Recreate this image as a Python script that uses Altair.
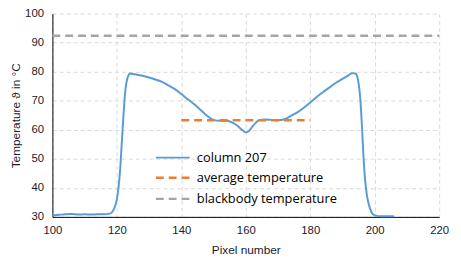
import altair as alt
import pandas as pd

# ---- data ----
pixel = [100, 102, 104, 106, 108, 110, 112, 114, 116, 118, 119, 120, 120.5, 121, 121.5,
         122, 122.5, 123, 123.5, 124, 125, 126, 128, 130, 132, 134, 136, 138, 140, 142,
         144, 146, 148, 150, 152, 154, 156, 157, 158, 159, 160, 161, 162, 163, 164, 166,
         168, 170, 172, 174, 176, 178, 180, 182, 184, 186, 188, 190, 192, 193, 194, 194.5,
         195, 195.5, 196, 196.5, 197, 197.5, 198, 198.5, 199, 200, 202, 204, 206]
temp = [30.5, 30.7, 30.9, 31.0, 30.8, 30.9, 30.8, 30.9, 30.9, 31.2, 32.5, 36, 40, 46, 55,
        64, 72, 76.5, 78.5, 79.4, 79.2, 79.0, 78.6, 78.0, 77.3, 76.5, 75.3, 74.0, 72.3, 70.5,
        68.8, 66.8, 64.8, 63.4, 63.1, 63.1, 62.4, 61.7, 60.8, 59.8, 59.1, 59.6, 61.0, 62.3, 63.2, 63.5,
        63.4, 63.3, 63.6, 64.8, 66.0, 67.6, 69.4, 71.3, 73.0, 74.6, 76.2, 77.5, 78.8, 79.5, 79.4, 78.6,
        76, 71, 62, 51, 43, 38, 35, 33, 31.6, 30.5, 30.2, 30.2, 30.2]

avg_x = [140, 180]
avg_temp = 63.3
bb_x = [100, 220]
bb_temp = 92.4

x_ticks = [100, 120, 140, 160, 180, 200, 220]
y_ticks = [30, 40, 50, 60, 70, 80, 90, 100]

legend_labels = ["column 207", "average temperature", "blackbody temperature"]
legend_colors = ["#5B9BD5", "#ED7D31", "#A5A5A5"]
legend_y = [50.4, 43.5, 36.2]
legend_sym_x = [132.1, 142.6]
legend_text_x = 144.8

x_scale = alt.Scale(domain=[100, 220], nice=False, zero=False)
y_scale = alt.Scale(domain=[30, 100], nice=False, zero=False)

x_axis = alt.Axis(values=x_ticks, title="Pixel number", tickCount=len(x_ticks))
y_axis = alt.Axis(values=y_ticks, title="Temperature  ϑ in °C", tickCount=len(y_ticks))


def X(field):
    return alt.X(field, type="quantitative", scale=x_scale, axis=x_axis)


def Y(field):
    return alt.Y(field, type="quantitative", scale=y_scale, axis=y_axis)


curve_df = pd.DataFrame({"x": pixel, "y": temp})
avg_df = pd.DataFrame({"x": avg_x, "y": [avg_temp] * len(avg_x)})
bb_df = pd.DataFrame({"x": bb_x, "y": [bb_temp] * len(bb_x)})

bb = alt.Chart(bb_df).mark_line(color=legend_colors[2], strokeWidth=2.5,
                                strokeDash=[8, 5]).encode(x=X("x"), y=Y("y"))

curve = alt.Chart(curve_df).mark_line(color=legend_colors[0], strokeWidth=2,
                                      interpolate="monotone").encode(x=X("x"), y=Y("y"))

avg = alt.Chart(avg_df).mark_line(color=legend_colors[1], strokeWidth=2.5,
                                  strokeDash=[8, 5]).encode(x=X("x"), y=Y("y"))

leg_df = pd.DataFrame({
    "label": legend_labels,
    "color": legend_colors,
    "y": legend_y,
    "x1": [legend_sym_x[0]] * 3,
    "x2": [legend_sym_x[1]] * 3,
    "tx": [legend_text_x] * 3,
})

leg_solid = alt.Chart(leg_df.iloc[[0]]).mark_rule(strokeWidth=2).encode(
    x=X("x1"), x2="x2:Q", y=Y("y"), color=alt.Color("color:N", scale=None))
leg_dash = alt.Chart(leg_df.iloc[[1, 2]]).mark_rule(strokeWidth=2.5, strokeDash=[8, 5]).encode(
    x=X("x1"), x2="x2:Q", y=Y("y"), color=alt.Color("color:N", scale=None))
leg_text = alt.Chart(leg_df).mark_text(align="left", baseline="middle", font="Open Sans",
                                       fontSize=13, color="#000000").encode(
    x=X("tx"), y=Y("y"), text="label:N")

chart = alt.layer(bb, curve, avg, leg_solid, leg_dash, leg_text).properties(
    width=392, height=206,
    autosize=alt.AutoSizeParams(type="none"),
    padding={"left": 45, "top": 4, "right": 14, "bottom": 40},
).configure_view(stroke=None).configure_axis(
    labelFont="Liberation Sans", labelFontSize=11.5, labelColor="#1a1a2e",
    titleFont="Liberation Sans", titleFontSize=12, titleFontWeight="normal",
    titleColor="#1a1a2e", labelOverlap=False, labelBound=False, labelFlush=False,
    domainColor="#000000", domainWidth=1, ticks=False,
    gridColor="#D9D9D9", gridDash=[4, 3], gridWidth=1, labelPadding=8,
).configure_axisY(titlePadding=2, labelPadding=9).configure_axisX(titlePadding=9)

chart.save("out.html", embed_options={"renderer": "svg", "actions": False})
